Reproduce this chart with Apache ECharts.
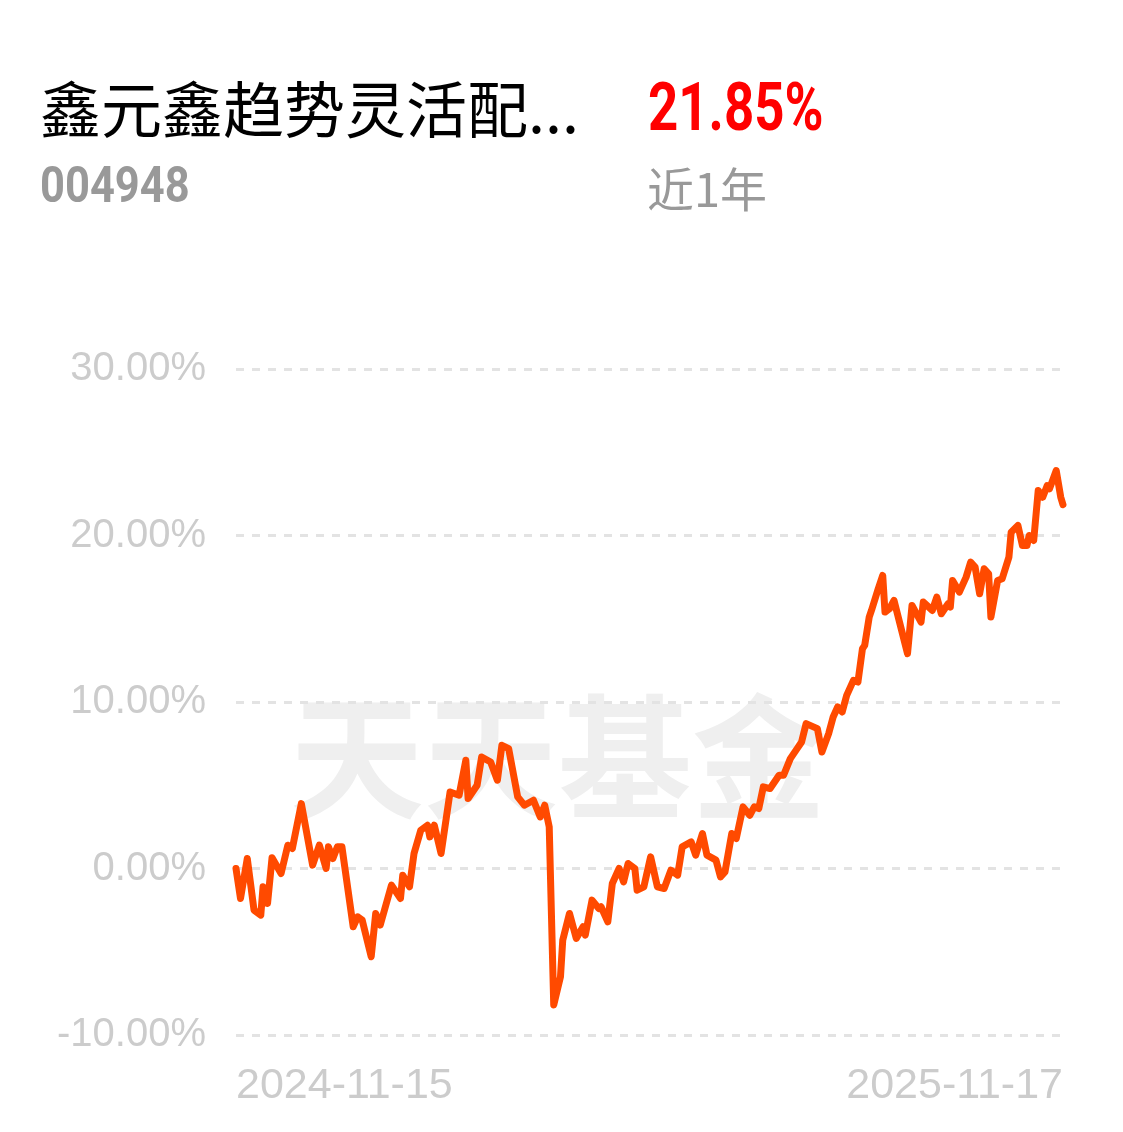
<!DOCTYPE html>
<html>
<head>
<meta charset="utf-8">
<script src="https://cdn.jsdelivr.net/npm/echarts@6/dist/echarts.min.js"></script>
<style>
html,body{margin:0;padding:0;background:#fff;}
#main{width:1123px;height:1132px;}
</style>
</head>
<body>
<div id="main"></div>
<script>
// calendar-day offsets from 2024-11-15
var days = [0,2,5,8,11,12,14,16,20,23,25,29,34,37,40,41,43,45,47,52,54,56,60,62,64,69,73,74,77,79,82,85,86,88,91,95,99,102,103,107,109,113,116,118,121,125,128,132,135,137,139,141,144,145,148,151,154,155,158,161,162,165,167,170,172,174,177,178,181,184,187,190,193,196,198,202,204,207,209,213,215,217,220,222,225,228,230,232,234,237,241,243,246,249,251,253,258,260,263,265,267,269,271,274,276,278,279,281,282,285,287,288,290,292,298,300,304,305,309,311,313,316,317,318,321,324,326,328,330,332,334,335,338,340,343,344,347,349,351,352,354,356,358,360,361,364,366,367];
// cumulative return (%)
var returns = [0.0,-1.8,0.6,-2.5,-2.8,-1.1,-2.1,0.65,-0.3,1.4,1.2,3.9,0.2,1.4,0.0,1.3,0.6,1.3,1.3,-3.5,-2.9,-3.1,-5.3,-2.7,-3.4,-1.0,-1.8,-0.4,-1.1,0.9,2.3,2.6,1.9,2.6,0.9,4.6,4.4,6.5,4.2,5.0,6.7,6.4,5.3,7.4,7.2,4.3,3.8,4.1,3.1,3.8,2.5,-8.2,-6.5,-4.3,-2.7,-4.2,-3.5,-4.0,-1.9,-2.4,-2.3,-3.2,-0.9,0.0,-0.8,0.3,0.0,-1.3,-1.1,0.7,-1.1,-1.2,-0.1,-0.4,1.3,1.6,0.8,2.1,0.8,0.5,-0.5,-0.2,2.1,1.8,3.7,3.2,3.7,3.6,4.9,4.8,5.6,5.6,6.6,7.2,7.6,8.7,8.4,7.0,8.1,9.1,9.7,9.4,10.4,11.3,11.2,13.2,13.4,15.1,15.5,16.8,17.6,15.4,15.6,16.1,12.9,15.8,14.8,16.0,15.5,16.3,15.3,15.9,15.7,17.3,16.6,17.5,18.4,18.1,16.5,18.0,17.7,15.1,17.3,17.4,18.7,20.2,20.6,19.4,19.4,20.0,19.7,22.7,22.3,23.0,22.8,23.9,22.3,21.85];
var xTickLabels = ['2024-11-15','2025-11-17'];
var fundName = '鑫元鑫趋势灵活配...';
var fundCode = '004948';
var periodReturn = '21.85%';
var periodLabel = '近1年';

var seriesData = days.map(function(d,i){return [d, returns[i]];});
var chart = echarts.init(document.getElementById('main'));
chart.setOption({
  animation:false,
  backgroundColor:'#fff',
  grid:{left:236,right:60,top:369,bottom:97},
  graphic:[
    {type:'text',left:290,top:690,z:0,silent:true,style:{text:'天天基金',font:'bold 134px "Noto Sans CJK SC"',fill:'#efefef'}},
    {type:'text',x:40,y:110,style:{text:fundName,font:'61px "Noto Sans CJK SC"',fill:'#000',textVerticalAlign:'middle'}},
    {type:'text',x:648,y:113,scaleX:0.8,style:{text:periodReturn,font:'bold 66px Roboto',fill:'#ff0000',textVerticalAlign:'middle'}},
    {type:'text',x:40,y:189,scaleX:0.87,style:{text:fundCode,font:'bold 50px Roboto',fill:'#999999',textVerticalAlign:'middle'}},
    {type:'text',x:647,y:189,style:{text:periodLabel,font:'47px "Noto Sans CJK SC"',fill:'#999999',textVerticalAlign:'middle'}}
  ],
  xAxis:{
    type:'value',min:0,max:367,interval:367,
    axisLine:{show:false},axisTick:{show:false},splitLine:{show:false},
    axisLabel:{
      color:'#cccccc',fontSize:43,fontFamily:'Liberation Sans',margin:30,
      alignMinLabel:'left',alignMaxLabel:'right',
      formatter:function(v){return v===0?xTickLabels[0]:(v===367?xTickLabels[1]:'');}
    }
  },
  yAxis:{
    type:'value',min:-10,max:30,interval:10,
    axisLine:{show:false},axisTick:{show:false},
    axisLabel:{color:'#cccccc',fontSize:40,fontFamily:'Liberation Sans',margin:30,
      formatter:function(v){return v.toFixed(2)+'%';}},
    splitLine:{lineStyle:{color:'#e3e3e3',width:3,type:[8,8]}}
  },
  series:[{
    type:'line',data:seriesData,showSymbol:false,z:3,
    lineStyle:{color:'#ff4a00',width:7,join:'round',cap:'round'}
  }]
});
</script>
</body>
</html>
